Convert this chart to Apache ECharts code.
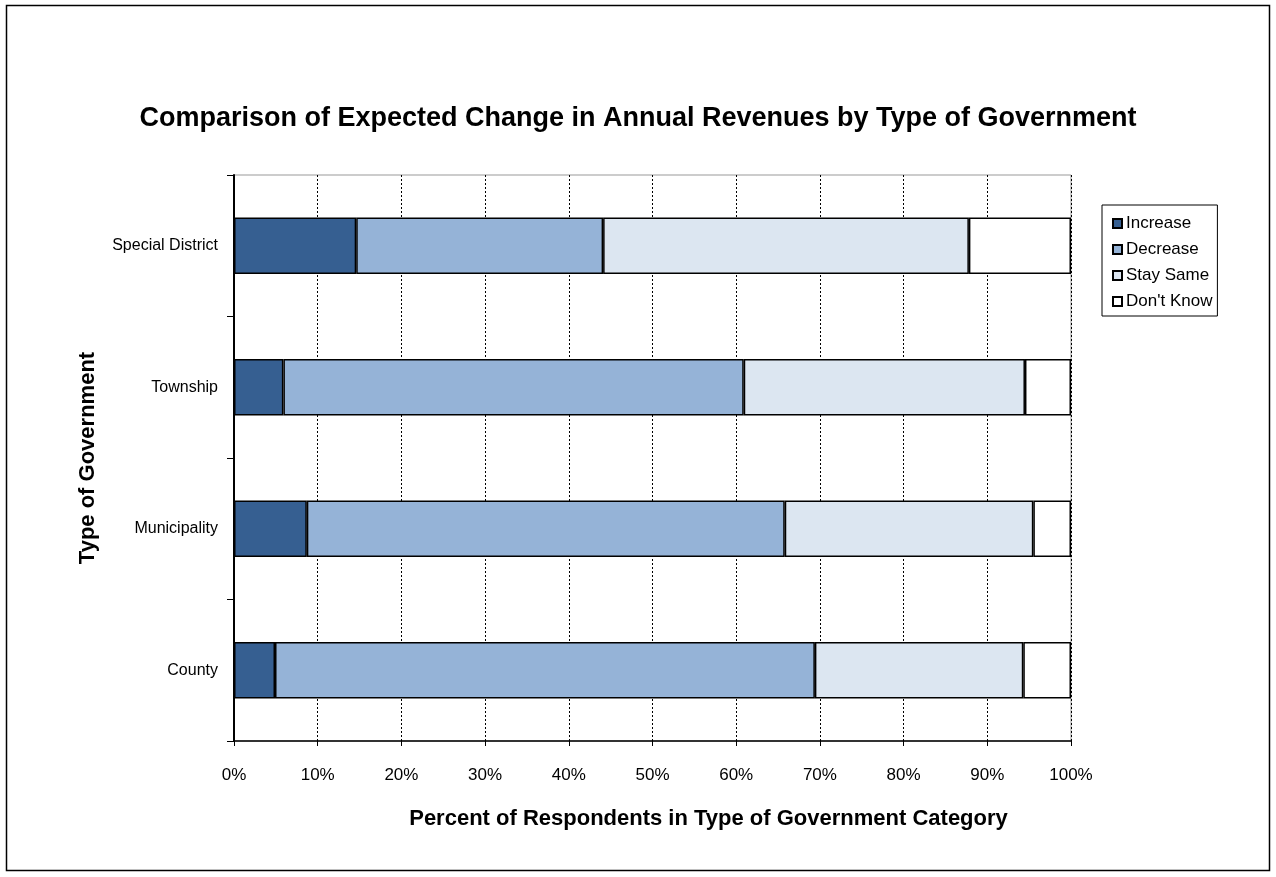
<!DOCTYPE html>
<html>
<head>
<meta charset="utf-8">
<script src="https://cdn.jsdelivr.net/npm/echarts@6/dist/echarts.min.js"></script>
<style>
  html, body { margin: 0; padding: 0; background: #fff; }
  #chart { width: 1276px; height: 877px; }
</style>
</head>
<body>
<div id="chart"></div>
<script>
// Government types, listed bottom to top on the category axis
const categories = ['County', 'Municipality', 'Township', 'Special District'];

// Share of respondents (%) per expected change in annual revenues
const increase  = [4.9, 8.7, 5.9, 14.6];
const decrease  = [64.5, 57.1, 55.0, 29.5];
const staySame  = [24.9, 29.7, 33.6, 43.7];
const dontKnow  = [5.7, 4.5, 5.5, 12.2];

const seriesNames = ['Increase', 'Decrease', 'Stay Same', "Don't Know"];
const seriesColors = ['#365F91', '#95B3D7', '#DCE6F1', '#FFFFFF'];
const seriesData = [increase, decrease, staySame, dontKnow];

const FONT = '"Liberation Sans", Arial, sans-serif';

const chart = echarts.init(document.getElementById('chart'), null, { renderer: 'canvas' });

chart.setOption({
  backgroundColor: '#fff',
  animation: false,
  textStyle: { fontFamily: FONT, color: '#000' },
  title: {
    text: 'Comparison of Expected Change in Annual Revenues by Type of Government',
    left: 'center',
    top: 100,
    textStyle: { fontFamily: FONT, fontSize: 27, fontWeight: 'bold', color: '#000' }
  },
  legend: {
    orient: 'vertical',
    left: 1102,
    top: 205,
    padding: [10, 5, 6, 10],
    itemGap: 9,
    itemWidth: 9,
    itemHeight: 9,
    borderColor: '#000',
    borderWidth: 1,
    icon: 'rect',
    data: seriesNames,
    textStyle: { fontFamily: FONT, fontSize: 17, color: '#000', padding: [0, 0, 0, -1] }
  },
  grid: {
    left: 234,
    right: 205,
    top: 175,
    bottom: 136,
    show: true,
    borderColor: '#999',
    borderWidth: 1,
    backgroundColor: 'transparent'
  },
  xAxis: {
    type: 'value',
    min: 0,
    max: 100,
    interval: 10,
    name: 'Percent of Respondents in Type of Government Category',
    nameLocation: 'middle',
    nameGap: 67,
    nameTextStyle: { fontFamily: FONT, fontSize: 22, fontWeight: 'bold', color: '#000', padding: [0, 0, 0, 112] },
    axisLine: { show: true, lineStyle: { color: '#000', width: 1.5 } },
    axisTick: { show: true, length: 5, lineStyle: { color: '#000', width: 1 } },
    axisLabel: { formatter: '{value}%', fontFamily: FONT, fontSize: 17, color: '#000', margin: 26 },
    splitLine: { show: true, lineStyle: { color: '#000', type: [2, 2], width: 1 } }
  },
  yAxis: {
    type: 'category',
    data: categories,
    name: 'Type of Government',
    nameLocation: 'middle',
    nameGap: 135,
    nameTextStyle: { fontFamily: FONT, fontSize: 22, fontWeight: 'bold', color: '#000' },
    axisLine: { show: true, lineStyle: { color: '#000', width: 2 } },
    axisTick: { show: true, length: 7, lineStyle: { color: '#000', width: 1 } },
    axisLabel: { fontFamily: FONT, fontSize: 16, color: '#000', margin: 16 },
    splitLine: { show: false }
  },
  series: seriesNames.map((name, i) => ({
    name: name,
    type: 'bar',
    stack: 'total',
    barWidth: '40%',
    data: seriesData[i],
    itemStyle: { color: seriesColors[i], borderColor: '#000', borderWidth: 1.5 }
  })),
  graphic: [{
    type: 'rect',
    shape: { x: 6.5, y: 5.5, width: 1263, height: 865 },
    style: { fill: 'none', stroke: '#000', lineWidth: 1.5 },
    silent: true
  }]
});
</script>
</body>
</html>
